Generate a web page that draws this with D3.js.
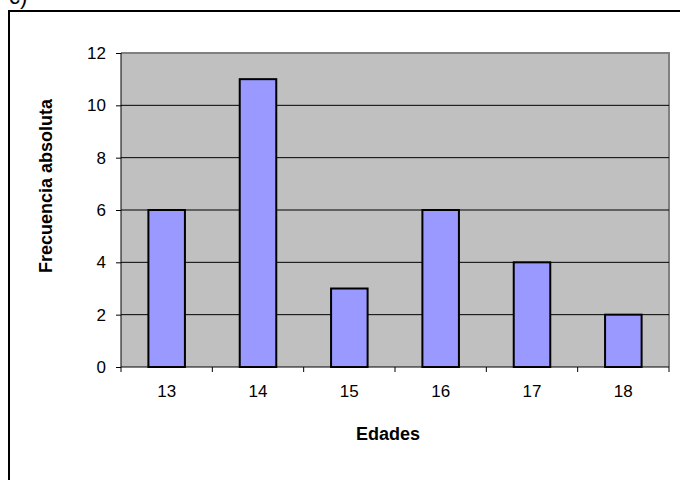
<!DOCTYPE html>
<html><head><meta charset="utf-8">
<script src="https://cdn.jsdelivr.net/npm/d3@7"></script>
<style>body{margin:0;background:#fff}svg{display:block}text{font-family:"Liberation Sans",Arial,sans-serif}</style>
</head><body><svg id="c" width="680" height="480"></svg>
<script>
const categories = ["13","14","15","16","17","18"];
const values = [6,11,3,6,4,2];
const yTicks = [0,2,4,6,8,10,12];
const xTitle = "Edades";
const yTitle = "Frecuencia absoluta";

const svg = d3.select("#c");
const L=121,R=669,T=53,B=367;
// outer frame
svg.append("rect").attr("x",9).attr("y",11).attr("width",700).attr("height",500).attr("fill","none").attr("stroke","#000").attr("stroke-width",2);
svg.append("text").attr("x",9).attr("y",4).attr("font-size",22).text("c)");

const x = d3.scaleBand().domain(categories).range([L,R]).paddingInner(0.6).paddingOuter(0.3);
const xb = d3.scaleBand().domain(categories).range([L,R]);
const y = d3.scaleLinear().domain([0,12]).range([B,T]);

svg.append("rect").attr("x",L).attr("y",T).attr("width",R-L).attr("height",B-T).attr("fill","#C0C0C0");
svg.append("path").attr("d",`M${L},${T}H${R}V${B}`).attr("fill","none").attr("stroke","#808080").attr("stroke-width",2);
// gridlines
svg.append("g").selectAll("line").data(yTicks.filter(d=>d>0 && d<12)).join("line")
  .attr("x1",L).attr("x2",R).attr("y1",d=>y(d)).attr("y2",d=>y(d)).attr("stroke","#000").attr("stroke-width",1);

// bars
svg.append("g").selectAll("rect").data(values).join("rect")
  .attr("x",(d,i)=>x(categories[i])).attr("width",x.bandwidth())
  .attr("y",d=>y(d)).attr("height",d=>B-y(d))
  .attr("fill","#9999FF").attr("stroke","#000").attr("stroke-width",2);

// y axis
const ya = svg.append("g").attr("transform",`translate(${L},0)`)
  .call(d3.axisLeft(y).tickValues(yTicks).tickSize(5).tickPadding(10));
ya.select(".domain").attr("stroke","#000").attr("d",`M0,${T}V${B}`);
ya.selectAll("text").attr("font-size",17).attr("font-family","Liberation Sans, Arial, sans-serif").attr("fill","#000");

// x axis
const xa = svg.append("g").attr("transform",`translate(0,${B})`);
xa.append("line").attr("x1",L).attr("x2",R).attr("stroke","#000");
const bounds = categories.map(c=>xb(c)).concat([R]);
xa.selectAll("line.t").data(bounds).join("line").attr("class","t")
  .attr("x1",d=>d).attr("x2",d=>d).attr("y1",0).attr("y2",5).attr("stroke","#000");
xa.selectAll("text").data(categories).join("text")
  .attr("x",d=>xb(d)+xb.bandwidth()/2).attr("y",30).attr("text-anchor","middle").attr("font-size",17).text(d=>d);

svg.append("text").attr("x",388).attr("y",440).attr("text-anchor","middle").attr("font-size",18).attr("font-weight","bold").text(xTitle);
svg.append("text").attr("transform","translate(52,186) rotate(-90)").attr("text-anchor","middle").attr("font-size",18).attr("font-weight","bold").text(yTitle);
</script></body></html>
